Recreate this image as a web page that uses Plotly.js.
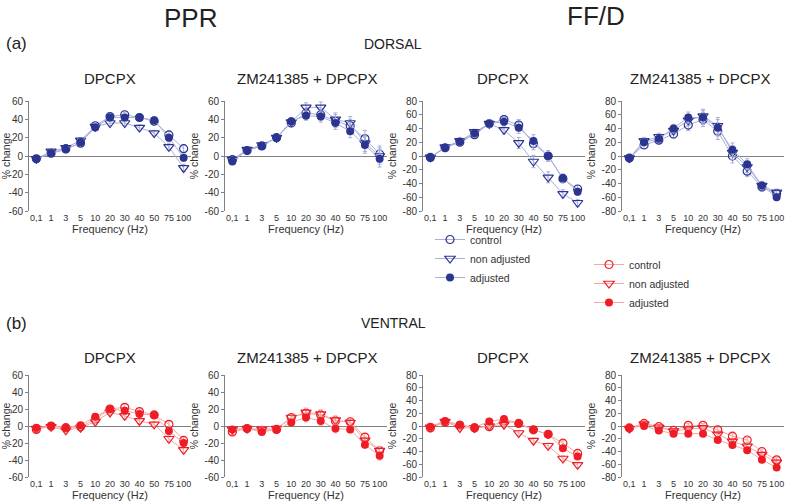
<!DOCTYPE html>
<html><head><meta charset="utf-8">
<script src="https://cdn.plot.ly/plotly-3.0.1.min.js"></script>
<style>html,body{margin:0;padding:0;background:#fff}</style>
</head><body><div id="chart" style="width:787px;height:504px"></div>
<script>
// Categories
const freq = ["0,1","1","3","5","10","20","30","40","50","75","100"];
const seriesNames = ["control","non adjusted","adjusted"];
const yTicksPPR = [60,40,20,0,-20,-40,-60];
const yTickTextPPR = ["60","40","20","0","-20","-40","-60"];
const yTicksFFD = [80,60,40,20,0,-20,-40,-60,-80];
const yTickTextFFD = ["80","60","40","20","0","-20","-40","-60","-80"];

// DORSAL – PPR – DPCPX
const dPprDp_ctrl = [-3, 3, 8, 14, 33, 43, 45, 42, 38, 23, 8];
const dPprDp_non  = [-3, 5, 9, 17, 32, 36, 36, 31, 25, 10, -13];
const dPprDp_adj  = [-3, 3, 7, 15, 31, 42, 42, 42, 39, 20, -2];
const dPprDp_err  = [2, 2, 2, 3, 3, 3, 3, 3, 3, 4, 4];
// DORSAL – PPR – ZM241385 + DPCPX
const dPprZm_ctrl = [-4, 6, 11, 20, 36, 47, 45, 38, 33, 19, 2];
const dPprZm_non  = [-4, 7, 12, 20, 37, 53, 53, 40, 36, 14, 0];
const dPprZm_adj  = [-6, 6, 11, 20, 38, 44, 43, 36, 27, 12, -3];
const dPprZm_err  = [2, 2, 2, 2, 4, 5, 6, 7, 7, 9, 9];
// DORSAL – FF/D – DPCPX
const dFfdDp_ctrl = [-2, 12, 20, 31, 47, 53, 45, 18, 0, -33, -48];
const dFfdDp_non  = [-2, 13, 22, 35, 47, 38, 19, -8, -31, -55, -68];
const dFfdDp_adj  = [-2, 12, 21, 33, 47, 50, 41, 22, 0, -32, -52];
const dFfdDp_err  = [2, 3, 4, 4, 5, 6, 8, 9, 8, 6, 5];
// DORSAL – FF/D – ZM241385 + DPCPX
const dFfdZm_ctrl = [-3, 16, 23, 32, 45, 53, 36, 0, -22, -45, -55];
const dFfdZm_non  = [-3, 22, 28, 37, 52, 58, 44, 5, -16, -43, -53];
const dFfdZm_adj  = [-3, 20, 25, 40, 56, 56, 41, 9, -12, -43, -60];
const dFfdZm_err  = [2, 5, 5, 6, 8, 10, 12, 10, 8, 6, 5];
// VENTRAL – PPR – DPCPX
const vPprDp_ctrl = [-4, 0, -2, -1, 8, 20, 22, 17, 13, 2, -17];
const vPprDp_non  = [-3, -1, -5, -2, 5, 16, 12, 6, 2, -15, -28];
const vPprDp_adj  = [-2, 0, -2, 1, 11, 20, 18, 14, 13, -6, -20];
const vPprDp_err  = [2, 2, 3, 2, 3, 3, 4, 3, 3, 4, 4];
// VENTRAL – PPR – ZM241385 + DPCPX
const vPprZm_ctrl = [-7, -3, -5, -4, 10, 15, 13, 6, 5, -13, -29];
const vPprZm_non  = [-4, -3, -4, -3, 10, 16, 14, 7, 4, -17, -29];
const vPprZm_adj  = [-4, -3, -7, -4, 4, 10, 6, -3, -4, -22, -35];
const vPprZm_err  = [3, 3, 3, 2, 3, 5, 5, 5, 4, 4, 5];
// VENTRAL – FF/D – DPCPX
const vFfdDp_ctrl = [-3, 6, 1, -3, -1, 8, 4, -6, -13, -27, -43];
const vFfdDp_non  = [-2, 7, -3, -3, 0, 2, -11, -23, -31, -51, -61];
const vFfdDp_adj  = [-1, 8, 2, -2, 7, 11, 4, -6, -13, -35, -48];
const vFfdDp_err  = [3, 3, 3, 3, 3, 4, 4, 4, 4, 4, 4];
// VENTRAL – FF/D – ZM241385 + DPCPX
const vFfdZm_ctrl = [-3, 4, -1, -7, 1, 1, -6, -16, -22, -40, -53];
const vFfdZm_non  = [-4, 3, -2, -8, -5, -3, -13, -24, -32, -45, -57];
const vFfdZm_adj  = [-3, 0, -7, -12, -12, -12, -22, -30, -38, -53, -65];
const vFfdZm_err  = [4, 5, 3, 3, 3, 3, 4, 4, 4, 4, 4];

const W = 787, H = 504;
const BLUE = {mark:"#2b3590", line:"#a9aedb"};
const RED  = {mark:"#ee1d25", line:"#f6a6a6"};
const SANS = "'Liberation Sans', Arial, sans-serif";

const panels = [
  {series:[dPprDp_ctrl,dPprDp_non,dPprDp_adj], err:dPprDp_err, ffd:false, col:0, row:0, c:BLUE},
  {series:[dPprZm_ctrl,dPprZm_non,dPprZm_adj], err:dPprZm_err, ffd:false, col:1, row:0, c:BLUE},
  {series:[dFfdDp_ctrl,dFfdDp_non,dFfdDp_adj], err:dFfdDp_err, ffd:true,  col:2, row:0, c:BLUE},
  {series:[dFfdZm_ctrl,dFfdZm_non,dFfdZm_adj], err:dFfdZm_err, ffd:true,  col:3, row:0, c:BLUE},
  {series:[vPprDp_ctrl,vPprDp_non,vPprDp_adj], err:vPprDp_err, ffd:false, col:0, row:1, c:RED},
  {series:[vPprZm_ctrl,vPprZm_non,vPprZm_adj], err:vPprZm_err, ffd:false, col:1, row:1, c:RED},
  {series:[vFfdDp_ctrl,vFfdDp_non,vFfdDp_adj], err:vFfdDp_err, ffd:true,  col:2, row:1, c:RED},
  {series:[vFfdZm_ctrl,vFfdZm_non,vFfdZm_adj], err:vFfdZm_err, ffd:true,  col:3, row:1, c:RED},
];

const xDomPx = [[29,191],[225,387],[423,585],[622,784]];
const yDomPx = [[101,211],[375,477]];

const traces = [];
const layout = {
  width: W, height: H, margin:{l:0,r:0,t:0,b:0},
  paper_bgcolor:"#fff", plot_bgcolor:"#fff",
  font:{family:SANS, color:"#333"},
  showlegend:true,
  legend:{x:430/W, y:1-225/H, xanchor:"left", yanchor:"top", bgcolor:"rgba(0,0,0,0)",
          font:{size:10.5, family:SANS, color:"#333"}, itemwidth:30, tracegroupgap:0},
  legend2:{x:589/W, y:1-250/H, xanchor:"left", yanchor:"top", bgcolor:"rgba(0,0,0,0)",
          font:{size:10.5, family:SANS, color:"#333"}, itemwidth:30, tracegroupgap:0},
  annotations:[],
};

const symbols = ["circle-open","triangle-down-open","circle"];
const sizes = [8, 9, 8];

panels.forEach((p, i) => {
  const n = i + 1;
  const xs = n === 1 ? "" : String(n);
  const xd = xDomPx[p.col], yd = yDomPx[p.row];
  layout["xaxis"+xs] = {
    type:"category", categoryorder:"array", categoryarray:freq, range:[-0.5,10.5],
    domain:[xd[0]/W, xd[1]/W], anchor:"y"+xs,
    showline:false, ticks:"", showgrid:false, zeroline:false, fixedrange:true,
    tickangle:0, automargin:false,
    tickfont:{size:9, family:SANS, color:"#333"},
    title:{text:"Frequency (Hz)", font:{size:11, family:SANS, color:"#333"}, standoff:2},
  };
  layout["yaxis"+xs] = {
    domain:[1-yd[1]/H, 1-yd[0]/H], anchor:"x"+xs,
    range: p.ffd ? [-80,80] : [-60,60],
    tickmode:"array",
    tickvals: p.ffd ? yTicksFFD : yTicksPPR,
    ticktext: p.ffd ? yTickTextFFD : yTickTextPPR,
    showline:true, linecolor:"#808080", linewidth:1,
    ticks:"outside", ticklen:3, tickcolor:"#808080", tickwidth:1,
    showgrid:false, zeroline:true, zerolinecolor:"#808080", zerolinewidth:1,
    fixedrange:true, automargin:false,
    tickfont:{size:10, family:SANS, color:"#333"},
    title:{text:"% change", font:{size:10.5, family:SANS, color:"#333"}, standoff:3},
  };
  p.series.forEach((vals, s) => {
    const filled = s === 2;
    traces.push({
      type:"scatter", mode:"lines+markers",
      x: freq, y: vals,
      xaxis:"x"+xs, yaxis:"y"+xs,
      name: seriesNames[s],
      legend: p.c === BLUE ? "legend" : "legend2",
      showlegend: (n === 1 || n === 5),
      cliponaxis:false,
      line:{color:p.c.line, width:1},
      marker:{symbol:symbols[s], size:sizes[s], color:p.c.mark,
              line:{color:p.c.mark, width: filled ? 0 : 1.2}},
      error_y:{type:"data", array:p.err, visible:true, color:p.c.line, thickness:1, width:2},
    });
  });
});

function ann(text, px, py, size, xanchor) {
  layout.annotations.push({text, x:px/W, y:1-py/H, xref:"paper", yref:"paper",
    xanchor: xanchor || "center", yanchor:"middle", showarrow:false,
    font:{size, family:SANS, color:"#222"}});
}
ann("PPR", 190, 18, 26);
ann("FF/D", 596, 16, 26);
ann("(a)", 4, 43, 17, "left");
ann("DORSAL", 393, 44, 14);
ann("DPCPX", 110, 78, 15);
ann("ZM241385 + DPCPX", 307, 78, 15);
ann("DPCPX", 503, 78, 15);
ann("ZM241385 + DPCPX", 700, 78, 15);
ann("(b)", 4, 323, 17, "left");
ann("VENTRAL", 393, 323, 14);
ann("DPCPX", 110, 357, 15);
ann("ZM241385 + DPCPX", 307, 357, 15);
ann("DPCPX", 503, 357, 15);
ann("ZM241385 + DPCPX", 700, 357, 15);

Plotly.newPlot("chart", traces, layout, {staticPlot:true, displayModeBar:false});
</script></body></html>
